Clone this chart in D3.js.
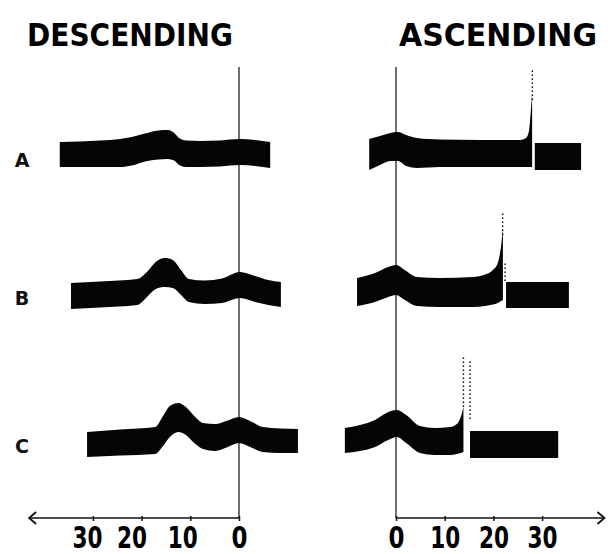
<!DOCTYPE html>
<html>
<head>
<meta charset="utf-8">
<script src="https://cdn.jsdelivr.net/npm/d3@7"></script>
<style>
  html, body { margin: 0; padding: 0; background: #fff; }
  svg { display: block; }
</style>
</head>
<body>
<svg id="chart" width="608" height="554"></svg>
<script>
// Row identifiers
const rows = ["A", "B", "C"];

// Panel titles and axis tick labels
const panelTitles = ["DESCENDING", "ASCENDING"];
const tickValues = [0, 10, 20, 30];

// Envelope traces: [position, upper deflection, lower deflection]
// Descending panel (position measured leftward from 0)
const descA = [
  [36.8, 13, -12], [28.5, 14.5, -12], [24.4, 16, -12], [22, 18, -10.5],
  [19.3, 21.5, -6.5], [16.6, 24.5, -4.5], [14.6, 25, -4], [13.3, 22, -5.5],
  [12.3, 17, -10], [10.9, 14.5, -12], [8, 14, -12], [3.9, 14.5, -11.5],
  [-0.2, 16, -10], [-3.3, 15, -11], [-6.4, 13, -13]
];
const descB = [
  [34.5, 12, -14], [28.5, 13.5, -12.5], [20.9, 16, -10], [18.9, 23, -2],
  [17.1, 33, 6], [15.2, 37, 8], [13.6, 35, 7], [11.9, 25, 0],
  [10.3, 16, -7], [7, 14.5, -9], [3.5, 16.5, -8], [-0.2, 23, -3],
  [-3.3, 19, -7], [-6, 15, -10], [-8.6, 13, -12]
];
const descC = [
  [31.2, 11, -14], [24.4, 13.5, -12.5], [17.2, 16, -11], [15.6, 27, -3],
  [14.2, 37, 6], [12.5, 40, 11], [10.9, 36, 8], [9.2, 27, 0],
  [7.4, 20, -6], [4.9, 19, -8], [2.3, 22.5, -4], [0, 26, 0],
  [-2.3, 22, -4], [-4.9, 16, -9], [-8.4, 14.5, -10], [-12.1, 14, -10]
];

// Ascending panel (position measured rightward from 0)
const ascA = [
  [-5.5, 16, -15], [-3.3, 19, -10], [-1.2, 22, -6], [0.4, 23, -6],
  [2.1, 20, -11], [4.3, 17, -13], [9, 15.5, -12], [17.2, 15, -12],
  [25.5, 15, -12], [26.7, 17, -12], [27.3, 24, -12], [27.7, 45, -12],
  [27.95, 62, -12]
];
const ascB = [
  [-8, 17, -11], [-4.3, 22, -7], [-1.6, 28, -2], [0, 30, 0],
  [1.8, 25, -5], [4.3, 18, -11], [9, 17, -12], [15.8, 18, -12],
  [18.3, 20.5, -11], [19.9, 25, -9.5], [20.9, 32, -8], [21.6, 50, -6],
  [21.95, 67, -5]
];
const ascC = [
  [-10.5, 15, -10], [-7.4, 18, -8], [-4.3, 23, -4], [-1.6, 31, 3],
  [0.2, 33, 6], [2.1, 28, 0], [4.9, 17, -10], [8, 15, -12],
  [11.1, 16, -12], [12.5, 19, -11], [13.3, 26, -10], [13.85, 36, -9]
];

// Trace after the break: [start, end, upper, lower]
const ascBlocks = [
  [28.5, 38.0, 12, -15],
  [22.6, 35.5, 13, -13],
  [15.2, 33.3, 12, -15]
];

// Dotted marks above the breaks: [row, position, from, to]
const breakDots = [
  ["A", 28.0, 55, 85],
  ["B", 21.9, 60, 82],
  ["B", 22.4, 14, 33],
  ["C", 13.85, 36, 86],
  ["C", 15.2, 24, 83]
];

const svg = d3.select("#chart");
const ink = "#050505";

// Scales
const xL = d3.scaleLinear().domain([0, 40]).range([239, 44.2]);
const xR = d3.scaleLinear().domain([0, 40]).range([396, 590.8]);
const amp = d3.scaleLinear().domain([0, 100]).range([0, -100]);
const rowBase = d3.scaleOrdinal().domain(rows).range([155, 295, 443]);
const axisY = 518;
const lineTop = 67;

const bandArea = (x, base) => d3.area()
  .x(d => x(d[0]))
  .y0(d => base + amp(d[2]))
  .y1(d => base + amp(d[1]))
  .curve(d3.curveMonotoneX);

// Reference lines at 0
[xL, xR].forEach(x => {
  svg.append("line")
    .attr("x1", x(0)).attr("x2", x(0))
    .attr("y1", lineTop).attr("y2", axisY)
    .attr("stroke", "#222").attr("stroke-width", 1.3);
});

// Envelope bands
const desc = [descA, descB, descC];
const asc = [ascA, ascB, ascC];
rows.forEach((r, i) => {
  const base = rowBase(r);
  svg.append("path").datum(desc[i])
    .attr("d", bandArea(xL, base)).attr("fill", ink);
  svg.append("path").datum(asc[i])
    .attr("d", bandArea(xR, base)).attr("fill", ink);
  const b = ascBlocks[i];
  svg.append("rect")
    .attr("x", xR(b[0])).attr("width", xR(b[1]) - xR(b[0]))
    .attr("y", base + amp(b[2])).attr("height", amp(b[3]) - amp(b[2]))
    .attr("fill", ink);
  // row label
  svg.append("text")
    .attr("x", 22).attr("y", base + (i === 0 ? 12 : 10))
    .attr("text-anchor", "middle")
    .attr("font-family", "DejaVu Sans")
    .attr("font-weight", "bold")
    .attr("font-size", 19)
    .attr("fill", "#111")
    .text(r);
});

// Dotted traces above the breaks
breakDots.forEach(([r, p, from, to]) => {
  const base = rowBase(r);
  svg.append("line")
    .attr("x1", xR(p)).attr("x2", xR(p))
    .attr("y1", base + amp(from)).attr("y2", base + amp(to))
    .attr("stroke", ink).attr("stroke-width", 1.4)
    .attr("stroke-dasharray", "1.5,2.5");
});

// Bottom axes with arrows
svg.append("line")
  .attr("x1", xL(0)).attr("x2", xL(43.1))
  .attr("y1", axisY).attr("y2", axisY)
  .attr("stroke", "#111").attr("stroke-width", 1.5);
svg.append("path")
  .attr("d", `M${xL(43.1) + 7},${axisY - 6} L${xL(43.1)},${axisY} L${xL(43.1) + 7},${axisY + 6}`)
  .attr("fill", "none").attr("stroke", "#111").attr("stroke-width", 1.8);
svg.append("line")
  .attr("x1", xR(0)).attr("x2", xR(42.8))
  .attr("y1", axisY).attr("y2", axisY)
  .attr("stroke", "#111").attr("stroke-width", 1.5);
svg.append("path")
  .attr("d", `M${xR(42.8) - 7},${axisY - 6} L${xR(42.8)},${axisY} L${xR(42.8) - 7},${axisY + 6}`)
  .attr("fill", "none").attr("stroke", "#111").attr("stroke-width", 1.8);

// Tick labels through d3 axes; glyphs are condensed, so they are
// start-anchored and placed back by half their set width.
const labelNudgeL = { 0: 0, 10: -8, 20: -10, 30: -6 };
const labelWidth = d => d === 0 ? 16 : 30;
function drawAxis(x, nudge) {
  const g = svg.append("g")
    .attr("transform", `translate(0,${axisY})`)
    .call(d3.axisBottom(x).tickValues(tickValues).tickSize(3).tickPadding(6).tickFormat(d3.format("d")));
  g.select(".domain").remove();
  g.selectAll(".tick line").attr("stroke", "#111").attr("stroke-width", 1.5)
    .attr("y1", -2);
  g.selectAll(".tick text")
    .attr("fill", "#000")
    .attr("font-family", "DejaVu Sans")
    .attr("font-weight", "bold")
    .attr("font-size", 30)
    .attr("text-anchor", "start")
    .attr("x", d => -labelWidth(d) / 2 + (nudge ? nudge[d] : 0))
    .attr("textLength", labelWidth)
    .attr("lengthAdjust", "spacingAndGlyphs");
}
drawAxis(xL, labelNudgeL);
drawAxis(xR, null);

// Panel titles
svg.append("text")
  .attr("x", 27).attr("y", 46)
  .attr("font-family", "DejaVu Sans").attr("font-weight", "bold")
  .attr("font-size", 31.5).attr("fill", "#000")
  .attr("textLength", 206).attr("lengthAdjust", "spacingAndGlyphs")
  .text(panelTitles[0]);
svg.append("text")
  .attr("x", 399).attr("y", 46)
  .attr("font-family", "DejaVu Sans").attr("font-weight", "bold")
  .attr("font-size", 31.5).attr("fill", "#000")
  .attr("textLength", 198).attr("lengthAdjust", "spacingAndGlyphs")
  .text(panelTitles[1]);
</script>
</body>
</html>
